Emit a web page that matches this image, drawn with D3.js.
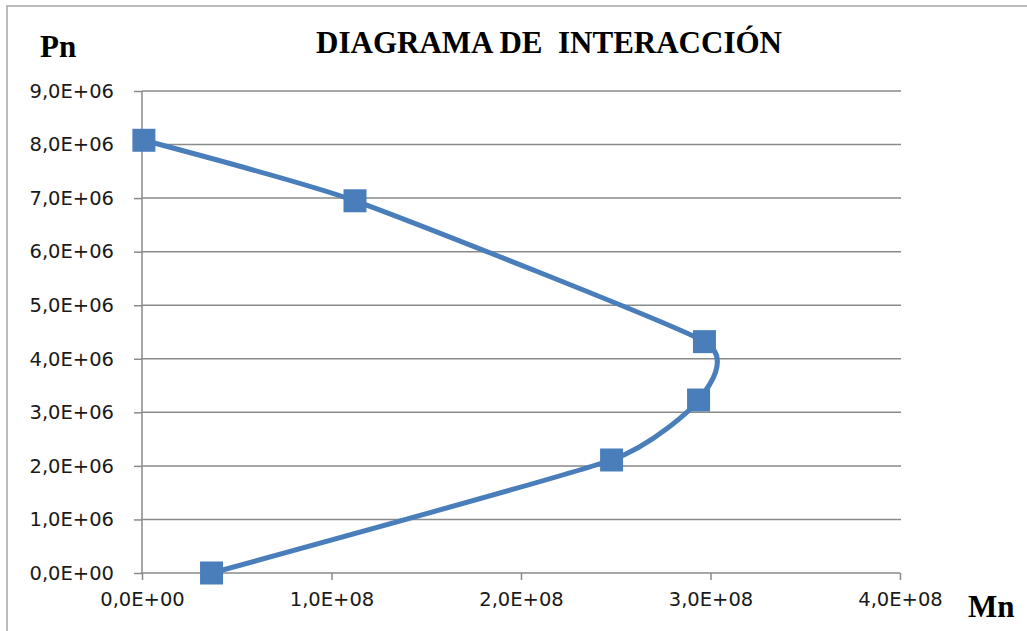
<!DOCTYPE html>
<html>
<head>
<meta charset="utf-8">
<script src="https://d3js.org/d3.v7.min.js"></script>
<style>
  html, body { margin: 0; padding: 0; background: #ffffff; }
  svg { display: block; }
</style>
</head>
<body>
<svg id="chart" width="1027" height="631"></svg>
<script>
// Interaction diagram: nominal moment Mn vs nominal axial load Pn
const momentMn = [1.0e6, 1.124e8, 2.968e8, 2.937e8, 2.478e8, 0.367e8];
const axialPn  = [8.08e6, 6.95e6, 4.32e6, 3.23e6, 2.11e6, 0.0];

const xTicks = [0, 1e8, 2e8, 3e8, 4e8];
const yTicks = [0, 1e6, 2e6, 3e6, 4e6, 5e6, 6e6, 7e6, 8e6, 9e6];
const xTickLabels = ["0,0E+00", "1,0E+08", "2,0E+08", "3,0E+08", "4,0E+08"];
const yTickLabels = ["0,0E+00", "1,0E+06", "2,0E+06", "3,0E+06", "4,0E+06",
                     "5,0E+06", "6,0E+06", "7,0E+06", "8,0E+06", "9,0E+06"];

const titleText = "DIAGRAMA DE  INTERACCIÓN";
const xAxisTitle = "Mn";
const yAxisTitle = "Pn";

const svg = d3.select("#chart");
const W = 1027, H = 631;
const plot = { left: 142, right: 900, top: 91, bottom: 573 };

const gridColor = "#8a8a8a";
const seriesColor = "#4a7ebb";
const labelFont = "'DejaVu Sans', Verdana, sans-serif";
const titleFont = "'Liberation Serif', 'Times New Roman', serif";

// outer chart frame
svg.append("rect")
  .attr("x", 7).attr("y", 6)
  .attr("width", W + 10).attr("height", H + 10)
  .attr("fill", "#ffffff")
  .attr("stroke", "#a6a6a6")
  .attr("stroke-width", 1.5);

const x = d3.scaleLinear().domain([0, 4e8]).range([plot.left, plot.right]);
const y = d3.scaleLinear().domain([0, 9e6]).range([plot.bottom, plot.top]);

// horizontal gridlines
svg.append("g")
  .selectAll("line")
  .data(yTicks.filter(d => d > 0))
  .join("line")
  .attr("x1", plot.left).attr("x2", plot.right + 1)
  .attr("y1", d => y(d)).attr("y2", d => y(d))
  .attr("stroke", gridColor)
  .attr("stroke-width", 1.5);

// y axis
const yAxis = d3.axisLeft(y)
  .tickValues(yTicks)
  .tickSize(8)
  .tickPadding(20)
  .tickFormat((d, i) => yTickLabels[i]);
const gy = svg.append("g")
  .attr("transform", `translate(${plot.left},0)`)
  .call(yAxis);

// x axis
const xAxis = d3.axisBottom(x)
  .tickValues(xTicks)
  .tickSize(7)
  .tickPadding(12)
  .tickFormat((d, i) => xTickLabels[i]);
const gx = svg.append("g")
  .attr("transform", `translate(0,${plot.bottom})`)
  .call(xAxis);

[gx, gy].forEach(g => {
  g.select(".domain").attr("stroke", gridColor).attr("stroke-width", 1.5);
  g.selectAll(".tick line").attr("stroke", gridColor).attr("stroke-width", 1.5);
  g.selectAll(".tick text")
    .attr("fill", "#1a1a1a")
    .style("font-family", labelFont)
    .style("font-size", "19.5px");
});
gy.select(".domain").attr("d", `M0,${plot.top}V${plot.bottom}`);
gx.select(".domain").attr("d", `M${plot.left},0H${plot.right}`);
gx.selectAll(".tick text").attr("dy", "0.71em");

// smoothed series line
const pts = momentMn.map((m, i) => [m, axialPn[i]]);
const line = d3.line()
  .x(d => x(d[0]))
  .y(d => y(d[1]))
  .curve(d3.curveCardinal.tension(0.5));

svg.append("path")
  .datum(pts)
  .attr("d", line)
  .attr("fill", "none")
  .attr("stroke", seriesColor)
  .attr("stroke-width", 5)
  .attr("stroke-linejoin", "round");

// square markers
const ms = 23;
svg.append("g")
  .selectAll("rect")
  .data(pts)
  .join("rect")
  .attr("x", d => x(d[0]) - ms / 2)
  .attr("y", d => y(d[1]) - ms / 2)
  .attr("width", ms).attr("height", ms)
  .attr("fill", seriesColor);

// titles
svg.append("text")
  .attr("x", 549).attr("y", 53)
  .attr("text-anchor", "middle")
  .attr("xml:space", "preserve")
  .style("white-space", "pre")
  .style("font-family", titleFont)
  .style("font-weight", "bold")
  .style("font-size", "31px")
  .attr("fill", "#000")
  .text(titleText);

svg.append("text")
  .attr("x", 40).attr("y", 57)
  .style("font-family", titleFont)
  .style("font-weight", "bold")
  .style("font-size", "31px")
  .attr("fill", "#000")
  .text(yAxisTitle);

svg.append("text")
  .attr("x", 968).attr("y", 617)
  .style("font-family", titleFont)
  .style("font-weight", "bold")
  .style("font-size", "31px")
  .attr("fill", "#000")
  .text(xAxisTitle);
</script>
</body>
</html>
